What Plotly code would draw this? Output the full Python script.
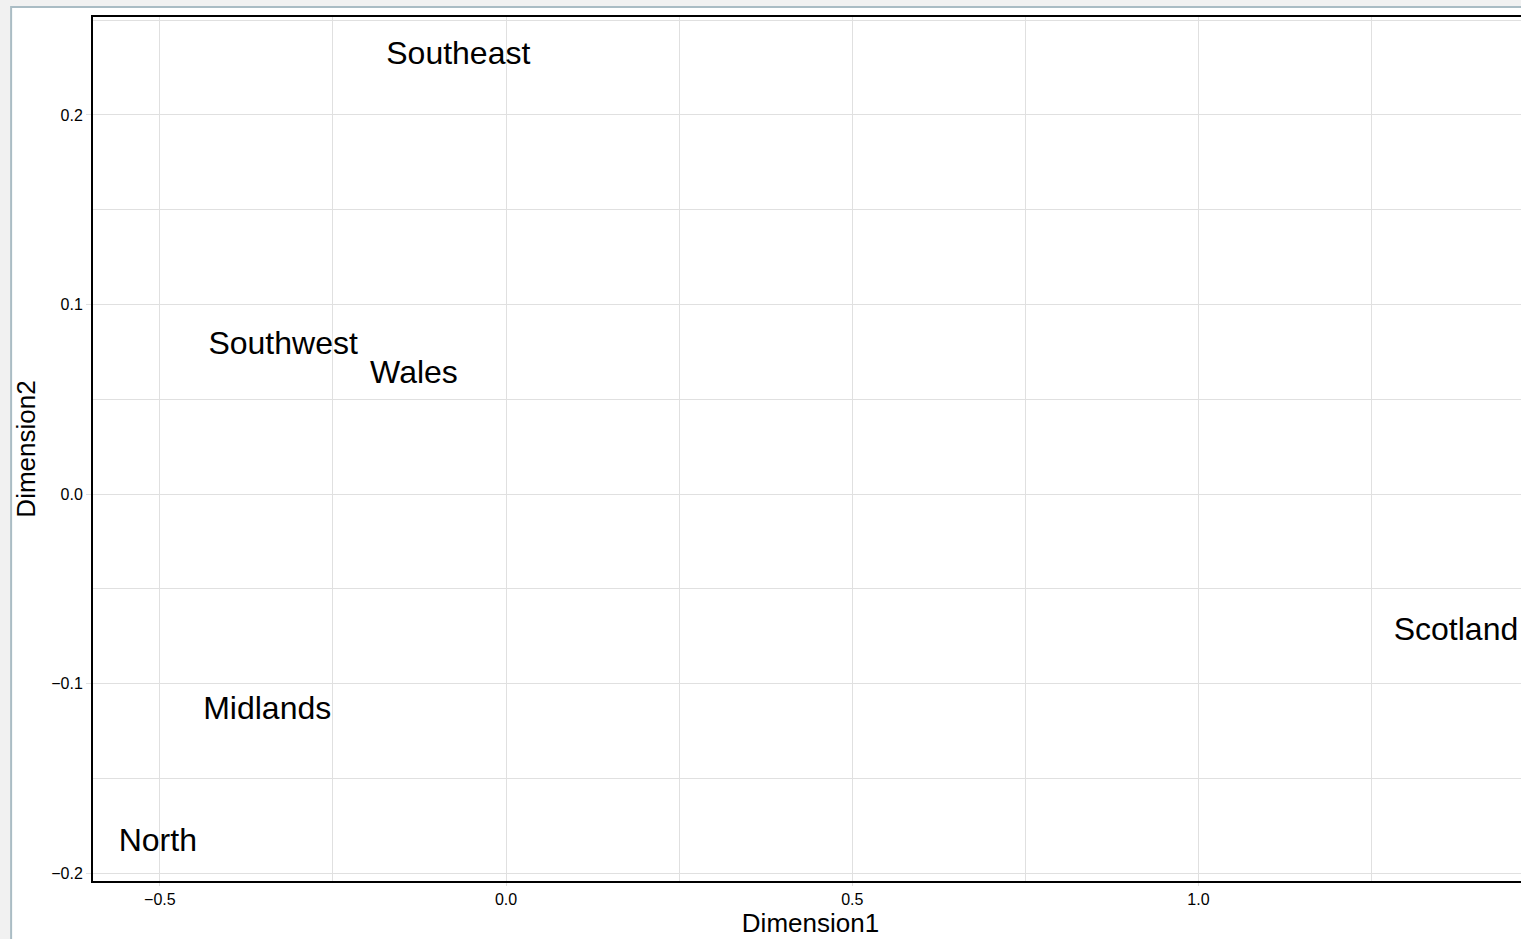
import plotly.graph_objects as go

regions = ["Southeast", "Southwest", "Wales", "Midlands", "North", "Scotland"]
dim1 = [-0.069, -0.322, -0.133, -0.345, -0.503, 1.372]
dim2 = [0.231, 0.078, 0.063, -0.1145, -0.184, -0.073]

x_ticks = [-0.5, 0.0, 0.5, 1.0]
x_tick_text = ["\u22120.5", "0.0", "0.5", "1.0"]
y_ticks = [-0.2, -0.1, 0.0, 0.1, 0.2]
y_tick_text = ["\u22120.2", "\u22120.1", "0.0", "0.1", "0.2"]

FONT = "Liberation Sans, Arial, Helvetica, sans-serif"

fig = go.Figure(
    go.Scatter(
        x=dim1,
        y=dim2,
        text=regions,
        mode="text",
        textposition="middle center",
        textfont=dict(family=FONT, size=32, color="#000000"),
        hoverinfo="text",
        cliponaxis=False,
    )
)

# figure is a bit wider than the window; the right edge is cut off as in the reference
W, H = 1530, 939
L, R, T, B = 93, 0, 17, 58
pw = W - L - R
ph = H - T - B

fig.add_shape(
    type="rect", xref="paper", yref="paper",
    x0=(11 - L) / pw, x1=1.2,
    y0=-0.3, y1=(H - B - 7) / ph,
    fillcolor="white", line=dict(color="#aabcc4", width=2), layer="below",
)

grid = "#e0e0e0"
fig.update_layout(
    width=W, height=H,
    margin=dict(l=L, r=R, t=T, b=B, pad=0),
    paper_bgcolor="#f1f1f1",
    plot_bgcolor="rgba(0,0,0,0)",
    showlegend=False,
    font=dict(family=FONT, color="#000000"),
    xaxis=dict(
        range=[-0.5966, 1.476],
        tickvals=x_ticks, ticktext=x_tick_text,
        tickfont=dict(size=16, color="#000000"),
        showgrid=True, gridcolor=grid, gridwidth=1,
        minor=dict(dtick=0.25, tick0=-0.25, showgrid=True, gridcolor=grid, gridwidth=1),
        ticks="outside", ticklen=3, tickcolor=grid,
        showline=True, linecolor="#000000", linewidth=2, mirror=True,
        zeroline=False,
        title=dict(text="Dimension1", font=dict(size=26, color="#000000"), standoff=0),
    ),
    yaxis=dict(
        range=[-0.2042, 0.2517],
        tickvals=y_ticks, ticktext=y_tick_text,
        tickfont=dict(size=16, color="#000000"),
        showgrid=True, gridcolor=grid, gridwidth=1,
        minor=dict(dtick=0.05, tick0=-0.15, showgrid=True, gridcolor=grid, gridwidth=1),
        ticks="outside", ticklen=5, tickcolor=grid,
        showline=True, linecolor="#000000", linewidth=2, mirror=True,
        zeroline=False,
        title=dict(text="Dimension2", font=dict(size=26, color="#000000"), standoff=8),
    ),
)

fig.write_html(
    "out.html",
    config={"displayModeBar": False},
    post_script=(
        "document.documentElement.style.overflow='hidden';"
        "document.body.style.margin='0';"
        "document.body.style.overflow='hidden';"
        "document.body.style.background='#f1f1f1';"
    ),
)
